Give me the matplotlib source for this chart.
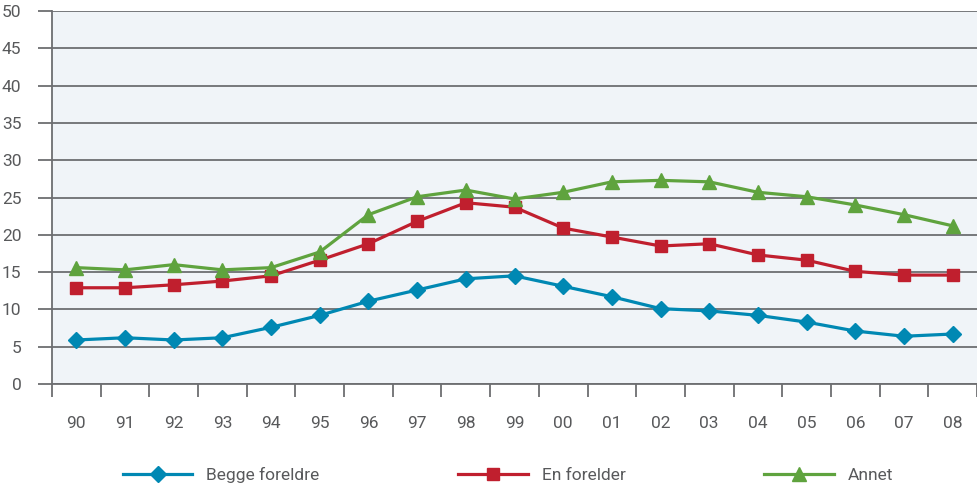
import numpy as np
import matplotlib
matplotlib.use("Agg")
import matplotlib.pyplot as plt

# Data
years = ["90", "91", "92", "93", "94", "95", "96", "97", "98", "99",
         "00", "01", "02", "03", "04", "05", "06", "07", "08"]
begge = [5.9, 6.2, 5.9, 6.2, 7.6, 9.2, 11.1, 12.6, 14.1, 14.5,
         13.1, 11.7, 10.1, 9.8, 9.2, 8.3, 7.1, 6.4, 6.7]
en_forelder = [12.9, 12.9, 13.3, 13.8, 14.5, 16.6, 18.8, 21.8, 24.3, 23.7,
               20.9, 19.7, 18.5, 18.8, 17.3, 16.6, 15.1, 14.6, 14.6]
annet = [15.6, 15.3, 16.0, 15.3, 15.6, 17.7, 22.7, 25.1, 26.0, 24.8,
         25.7, 27.1, 27.3, 27.1, 25.7, 25.1, 24.0, 22.7, 21.2]

text_col = "#58595b"
grid_col = "#6d6e71"

plt.rcParams["font.family"] = ["Roboto", "DejaVu Sans"]

fig = plt.figure(figsize=(9.77, 4.88), dpi=100)
ax = fig.add_axes([52 / 977, 1 - 384 / 488, 1 - 52 / 977, (384 - 11) / 488])
ax.set_facecolor("#f0f4f8")

x = np.arange(len(years))
ax.plot(x, begge, color="#0088b3", lw=2.3, marker="D", ms=8, label="Begge foreldre", zorder=3)
ax.plot(x, en_forelder, color="#c01f2e", lw=2.3, marker="s", ms=9, label="En forelder", zorder=3)
ax.plot(x, annet, color="#5fa33e", lw=2.3, marker="^", ms=10, label="Annet", zorder=3)

ax.set_xlim(-0.5, len(years) - 0.5)
ax.set_ylim(0, 50)
ax.set_yticks(np.arange(0, 51, 5))
ax.grid(True, axis="y", color=grid_col, lw=1.3)
ax.set_axisbelow(True)

ax.set_xticks(x)
ax.set_xticklabels(years)
ax.set_xticks(np.arange(-0.5, len(years), 1), minor=True)
ax.tick_params(axis="x", which="major", length=0, pad=23, labelsize=12.5, labelcolor=text_col)
ax.tick_params(axis="x", which="minor", length=9, width=1.3, color=grid_col)
ax.tick_params(axis="y", length=10, width=1.3, color=grid_col, pad=12, labelsize=12.5, labelcolor=text_col)

for s in ["top", "right"]:
    ax.spines[s].set_visible(False)
for s in ["left", "bottom"]:
    ax.spines[s].set_color(grid_col)
    ax.spines[s].set_linewidth(1.3)

fig.legend(loc="center", bbox_to_anchor=(0.52, 0.027), ncol=3, frameon=False,
           fontsize=12.5, labelcolor=text_col, columnspacing=8, handlelength=4)

plt.savefig("out.png", dpi=100)
